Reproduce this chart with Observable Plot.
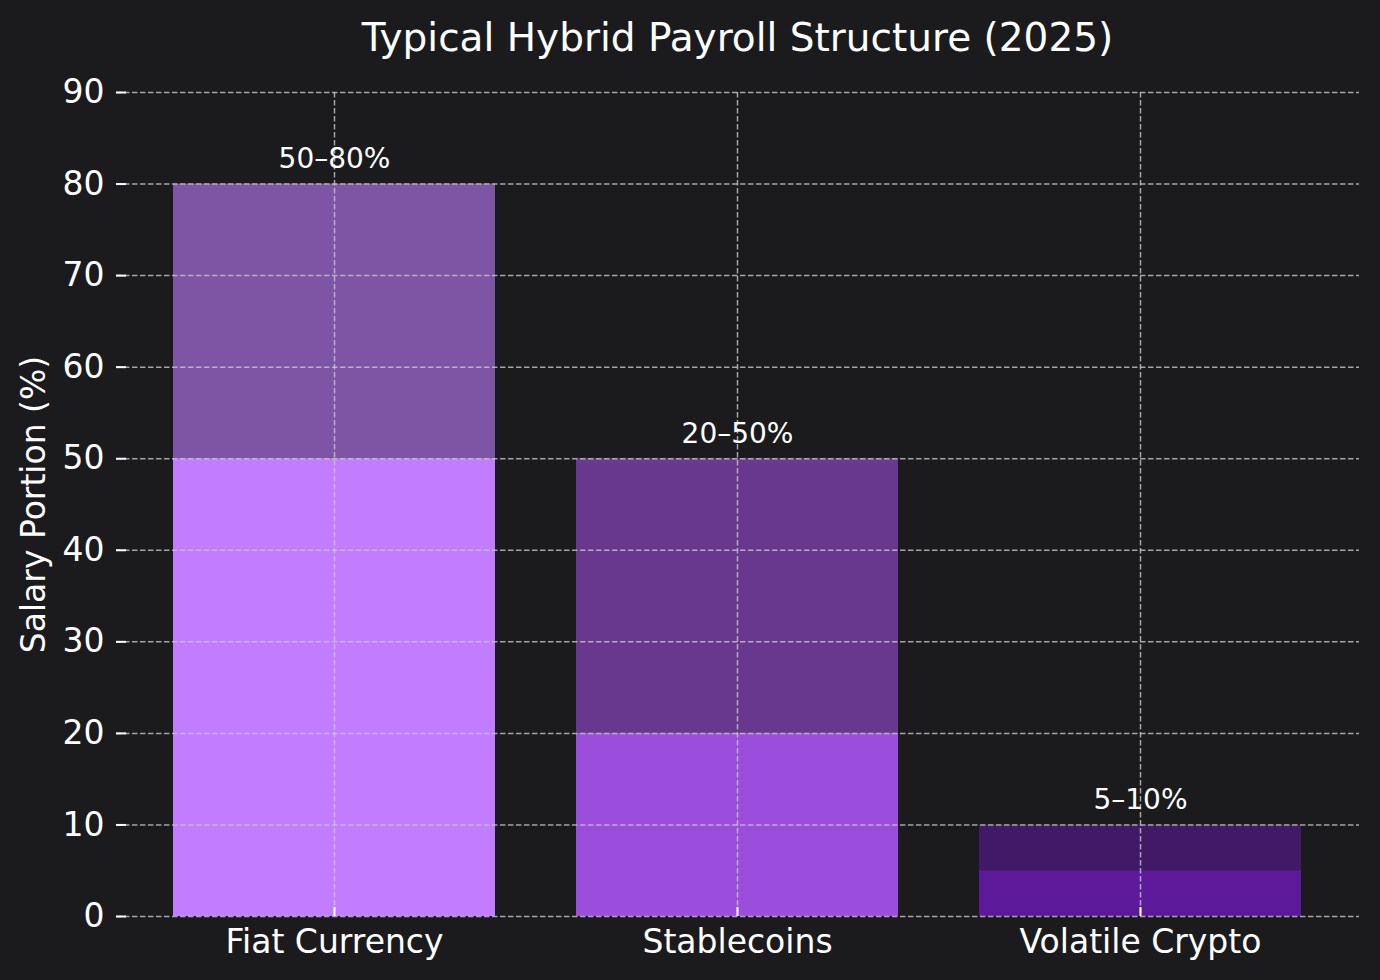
<!DOCTYPE html>
<html>
<head>
<meta charset="utf-8">
<script src="https://cdn.jsdelivr.net/npm/d3@7"></script>
<script src="https://cdn.jsdelivr.net/npm/@observablehq/plot@0.6"></script>
<style>
  html, body { margin: 0; padding: 0; background: #1b1b1d; }
  body { width: 1380px; height: 980px; overflow: hidden; font-family: "DejaVu Sans", sans-serif; }
  #title { box-sizing: border-box; height: 72px; padding: 15px 21px 0 116px; text-align: center; color: #ffffff; font-size: 39px; line-height: 46px; }
</style>
</head>
<body>
<div id="title">Typical Hybrid Payroll Structure (2025)</div>
<div id="chart"></div>
<script>
const categories = ["Fiat Currency", "Stablecoins", "Volatile Crypto"];
const minValues = [50, 20, 5];
const maxValues = [80, 50, 10];
const rangeLabels = ["50–80%", "20–50%", "5–10%"];
const barColors = ["#c17cff", "#9b4ddb", "#5c1a9a"];
const yTicks = [0, 10, 20, 30, 40, 50, 60, 70, 80, 90];

const rows = categories.map((c, i) => ({
  category: c, min: minValues[i], max: maxValues[i], label: rangeLabels[i], color: barColors[i]
}));

const W = 1380, H = 908;
const mL = 116, mR = 21, mT = 20, mB = 64;
const frameW = W - mL - mR, frameH = H - mT - mB;

const plot = Plot.plot({
  width: W,
  height: H,
  marginLeft: mL,
  marginRight: mR,
  marginTop: mT,
  marginBottom: mB,
  style: { background: "#1b1b1d", color: "#ffffff", fontFamily: "DejaVu Sans, sans-serif", fontSize: "33px" },
  x: { domain: categories, paddingInner: 0.2, paddingOuter: 0.14, label: null },
  y: { domain: [0, 90], label: null },
  marks: [
    Plot.barY(rows, { x: "category", y1: 0, y2: "min", fill: "color" }),
    Plot.barY(rows, { x: "category", y1: "min", y2: "max", fill: "color", fillOpacity: 0.6 }),
    Plot.gridY(yTicks, { stroke: "#c8c8c8", strokeOpacity: 0.8, strokeWidth: 1.5, strokeDasharray: "5.5,2.5" }),
    Plot.gridX(categories, { stroke: "#c8c8c8", strokeOpacity: 0.8, strokeWidth: 1.5, strokeDasharray: "5.5,2.5" }),
    Plot.ruleY(yTicks, { y: d => d, stroke: "#ffffff", strokeWidth: 2, insetRight: frameW - 10 }),
    Plot.ruleX(categories, { x: d => d, stroke: "#ffffff", strokeWidth: 2, insetTop: frameH - 9 }),
    Plot.axisY(yTicks, { tickSize: 0, tickPadding: 12, fontSize: 33, fill: "#ffffff", label: null }),
    Plot.axisX(categories, { tickSize: 0, tickPadding: 13, fontSize: 33, fill: "#ffffff", label: null }),
    Plot.text(rows, { x: "category", y: "max", text: "label", lineAnchor: "bottom", dy: -16, fontSize: 28, fill: "#ffffff" }),
    Plot.text(["Salary Portion (%)"], { frameAnchor: "left", textAnchor: "middle", rotate: -90, dx: -82, fontSize: 33, fill: "#ffffff" })
  ]
});
document.getElementById("chart").appendChild(plot);
</script>
</body>
</html>
